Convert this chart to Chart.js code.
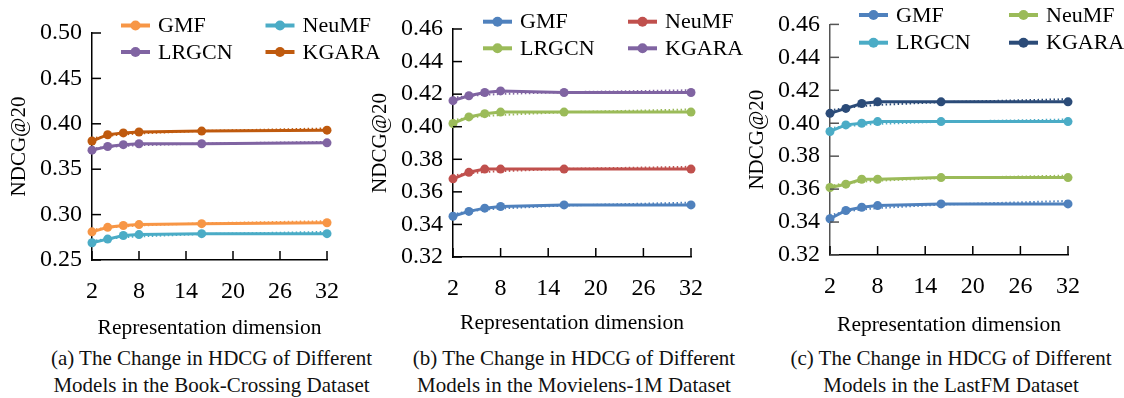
<!DOCTYPE html>
<html>
<head>
<meta charset="utf-8">
<script src="https://cdn.jsdelivr.net/npm/chart.js"></script>
<style>
  body { margin:0; background:#fff; width:1124px; height:398px; overflow:hidden; position:relative;
         font-family:"Liberation Serif","Times New Roman",serif; }
  canvas { position:absolute; top:0; }
  .cap { position:absolute; top:345px; width:420px; text-align:center; font-size:21px; line-height:27px; color:#111; }
</style>
</head>
<body>
<canvas id="c1"></canvas>
<canvas id="c2"></canvas>
<canvas id="c3"></canvas>
<div class="cap" id="cap1">(a) The Change in HDCG of Different<br>Models in the Book-Crossing Dataset</div>
<div class="cap" id="cap2">(b) The Change in HDCG of Different<br>Models in the Movielens-1M Dataset</div>
<div class="cap" id="cap3">(c) The Change in HDCG of Different<br>Models in the LastFM Dataset</div>
<script>
// data
const dims = [2, 4, 6, 8, 16, 32];
const xTicks = [2, 8, 14, 20, 26, 32];
const modelNames = ['GMF', 'NeuMF', 'LRGCN', 'KGARA'];

// (a) Book-Crossing
const bcYTicks = [0.25, 0.30, 0.35, 0.40, 0.45, 0.50];
const bcGMF   = [0.281, 0.286, 0.288, 0.289, 0.290, 0.291];
const bcNeuMF = [0.269, 0.273, 0.277, 0.278, 0.279, 0.279];
const bcLRGCN = [0.371, 0.375, 0.377, 0.378, 0.378, 0.379];
const bcKGARA = [0.381, 0.388, 0.390, 0.391, 0.392, 0.393];
// dotted trend lines
const bcGMFTrend   = [0.2832, 0.2856, 0.2870, 0.2880, 0.2904, 0.2928];
const bcNeuMFTrend = [0.2709, 0.2734, 0.2749, 0.2760, 0.2785, 0.2810];
const bcLRGCNTrend = [0.3727, 0.3745, 0.3756, 0.3764, 0.3782, 0.3800];
const bcKGARATrend = [0.3839, 0.3867, 0.3883, 0.3894, 0.3921, 0.3949];

// (b) Movielens-1M
const mlYTicks = [0.32, 0.34, 0.36, 0.38, 0.40, 0.42, 0.44, 0.46];
const mlGMF   = [0.345, 0.348, 0.350, 0.351, 0.352, 0.352];
const mlNeuMF = [0.368, 0.372, 0.374, 0.374, 0.374, 0.374];
const mlLRGCN = [0.402, 0.406, 0.408, 0.409, 0.409, 0.409];
const mlKGARA = [0.416, 0.419, 0.421, 0.422, 0.421, 0.421];
const mlGMFTrend   = [0.3463, 0.3481, 0.3491, 0.3498, 0.3516, 0.3534];
const mlNeuMFTrend = [0.3701, 0.3714, 0.3722, 0.3727, 0.3741, 0.3754];
const mlLRGCNTrend = [0.4040, 0.4056, 0.4066, 0.4072, 0.4089, 0.4106];
const mlKGARATrend = [0.4178, 0.4189, 0.4196, 0.4201, 0.4212, 0.4224];

// (c) LastFM
const lfYTicks = [0.32, 0.34, 0.36, 0.38, 0.40, 0.42, 0.44, 0.46];
const lfGMF   = [0.342, 0.347, 0.349, 0.350, 0.351, 0.351];
const lfNeuMF = [0.361, 0.363, 0.366, 0.366, 0.367, 0.367];
const lfLRGCN = [0.395, 0.399, 0.400, 0.401, 0.401, 0.401];
const lfKGARA = [0.406, 0.409, 0.412, 0.413, 0.413, 0.413];
const lfGMFTrend   = [0.3442, 0.3464, 0.3476, 0.3485, 0.3506, 0.3528];
const lfNeuMFTrend = [0.3620, 0.3636, 0.3645, 0.3651, 0.3667, 0.3682];
const lfLRGCNTrend = [0.3969, 0.3982, 0.3990, 0.3996, 0.4009, 0.4023];
const lfKGARATrend = [0.4077, 0.4094, 0.4104, 0.4111, 0.4128, 0.4146];

const FONT = '"Liberation Serif","Times New Roman",serif';
const H = 345;

// layout of each panel (page px)
const panels = [
  { id:'c1', cap:'cap1', left:0,   width:380, top:33, bottom:260, right:327, xTitlePad:4, yAxisColor:'#000',
    colors:['#F79646', '#4BACC6', '#8064A2', '#BF5A0E'],
    legend:{ x:121, y:25.5, dx:144.5, dy:26.5 },
    series:[bcGMF, bcNeuMF, bcLRGCN, bcKGARA], trends:[bcGMFTrend, bcNeuMFTrend, bcLRGCNTrend, bcKGARATrend], yTicks:bcYTicks },
  { id:'c2', cap:'cap2', left:361, width:387, top:29, bottom:257, right:691, xTitlePad:9, yAxisColor:'#000',
    colors:['#4F81BD', '#C0504D', '#9BBB59', '#8064A2'],
    legend:{ x:483, y:21.7, dx:145, dy:26.6 },
    series:[mlGMF, mlNeuMF, mlLRGCN, mlKGARA], trends:[mlGMFTrend, mlNeuMFTrend, mlLRGCNTrend, mlKGARATrend], yTicks:mlYTicks },
  { id:'c3', cap:'cap3', left:738, width:386, top:23, bottom:255, right:1068, xTitlePad:7, yAxisColor:'#555',
    colors:['#4F81BD', '#9BBB59', '#4BACC6', '#2B4B78'],
    legend:{ x:859, y:15, dx:150, dy:27.7 },
    series:[lfGMF, lfNeuMF, lfLRGCN, lfKGARA], trends:[lfGMFTrend, lfNeuMFTrend, lfLRGCNTrend, lfKGARATrend], yTicks:lfYTicks }
];
const panelOf = chart => panels.find(p => p.id === chart.canvas.id);

// short ticks pointing into the plot
const innerTicks = {
  id:'innerTicks',
  afterDraw(chart) {
    const p = panelOf(chart);
    const { ctx, scales:{ x, y }, chartArea:a } = chart;
    ctx.save();
    ctx.lineWidth = 1.5;
    ctx.strokeStyle = '#000';
    x.ticks.forEach(t => {
      const px = x.getPixelForValue(t.value);
      ctx.beginPath(); ctx.moveTo(px, a.bottom); ctx.lineTo(px, a.bottom - 9); ctx.stroke();
    });
    ctx.strokeStyle = p.yAxisColor;
    y.ticks.forEach(t => {
      const py = y.getPixelForValue(t.value);
      ctx.beginPath(); ctx.moveTo(a.left, py); ctx.lineTo(a.left + 9, py); ctx.stroke();
    });
    ctx.restore();
  }
};

// two-column legend like the original
const gridLegend = {
  id:'gridLegend',
  afterDraw(chart) {
    const p = panelOf(chart), ctx = chart.ctx;
    ctx.save();
    ctx.font = '22px ' + FONT;
    ctx.textBaseline = 'middle';
    modelNames.forEach((name, i) => {
      const x0 = p.legend.x + (i % 2) * p.legend.dx - p.left;
      const y0 = p.legend.y + Math.floor(i / 2) * p.legend.dy;
      ctx.strokeStyle = p.colors[i];
      ctx.lineWidth = 4;
      ctx.beginPath(); ctx.moveTo(x0, y0); ctx.lineTo(x0 + 29, y0); ctx.stroke();
      ctx.fillStyle = p.colors[i];
      ctx.beginPath(); ctx.arc(x0 + 14.5, y0, 5, 0, Math.PI * 2); ctx.fill();
      ctx.fillStyle = '#000';
      ctx.fillText(name, x0 + 37, y0 + 1);
    });
    ctx.restore();
  }
};

function makePanel(p) {
  const cv = document.getElementById(p.id);
  cv.width = p.width; cv.height = H;
  cv.style.left = p.left + 'px';
  cv.style.width = p.width + 'px'; cv.style.height = H + 'px';

  const cap = document.getElementById(p.cap);
  cap.style.left = ((p.left + 92 + p.right) / 2 + 2 - 210) + 'px';

  const datasets = [];
  p.trends.forEach((tr, i) => datasets.push({
    label: modelNames[i] + ' trend',
    data: dims.map((d, k) => ({ x:d, y:tr[k] })),
    borderColor: p.colors[i], borderWidth: 2, borderDash:[1.5, 2.5],
    pointRadius: 0, clip:false
  }));
  p.series.forEach((s, i) => datasets.push({
    label: modelNames[i],
    data: dims.map((d, k) => ({ x:d, y:s[k] })),
    borderColor: p.colors[i], backgroundColor: p.colors[i], borderWidth: 3,
    pointRadius: 4.5, pointBackgroundColor: p.colors[i], pointBorderColor: p.colors[i], pointBorderWidth: 0,
    clip:false
  }));

  return new Chart(cv.getContext('2d'), {
    type:'line',
    data:{ datasets },
    options:{
      responsive:false, animation:false,
      layout:{ padding:{ left:0, top:p.top, right:(p.left + p.width) - p.right, bottom:0 } },
      plugins:{ legend:{ display:false }, tooltip:{ enabled:false } },
      elements:{ line:{ tension:0 } },
      scales:{
        x:{
          type:'linear', min:dims[0], max:dims[dims.length - 1],
          afterBuildTicks: s => { s.ticks = xTicks.map(v => ({ value:v })); },
          afterFit: s => { s.height = H - p.bottom; },
          grid:{ display:false, drawTicks:false },
          border:{ display:true, color:'#000', width:1.5 },
          ticks:{ padding:17, color:'#000', font:{ family:FONT, size:24 }, maxRotation:0, autoSkip:false },
          title:{ display:true, text:'Representation dimension', color:'#000',
                  font:{ family:FONT, size:21.5 }, padding:{ top:0, bottom:p.xTitlePad } }
        },
        y:{
          type:'linear', min:p.yTicks[0], max:p.yTicks[p.yTicks.length - 1],
          afterBuildTicks: s => { s.ticks = p.yTicks.map(v => ({ value:v })); },
          afterFit: s => { s.width = 92; },
          grid:{ display:false, drawTicks:false },
          border:{ display:true, color:p.yAxisColor, width:1.5 },
          ticks:{ padding:10, color:'#000', font:{ family:FONT, size:24 }, callback: v => v.toFixed(2) },
          title:{ display:true, text:'NDCG@20', color:'#000',
                  font:{ family:FONT, size:21 }, padding:{ top:7, bottom:0 } }
        }
      }
    },
    plugins:[innerTicks, gridLegend]
  });
}

panels.forEach(makePanel);
</script>
</body>
</html>
